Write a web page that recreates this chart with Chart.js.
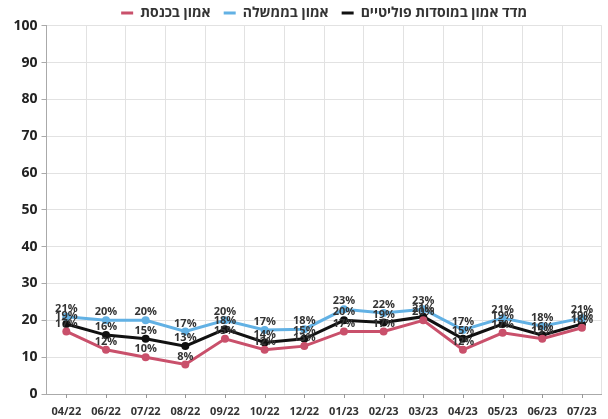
<!DOCTYPE html>
<html>
<head>
<meta charset="utf-8">
<script src="https://cdn.jsdelivr.net/npm/chart.js@4.4.0/dist/chart.umd.min.js"></script>
<style>
html,body{margin:0;padding:0;background:#fff;}
#wrap{width:608px;height:419px;}
</style>
</head>
<body>
<div id="wrap"><canvas id="c" width="608" height="419"></canvas></div>
<script>
const categories = ["04/22","06/22","07/22","08/22","09/22","10/22","12/22","01/23","02/23","03/23","04/23","05/23","06/23","07/23"];
const knesset = [17,12,10,8,15,12,13,17,17,20,12,16.6,15,18];
const government = [21,20,20,17,20,17.4,17.6,23,22,23,17.4,20.6,18.4,20.6];
const index = [19,16,15,13,17.6,14,15,20,19.4,21,15,19,16,19];
const yTicks = [0,10,20,30,40,50,60,70,80,90,100];
const seriesNames = ["אמון בכנסת","אמון בממשלה","מדד אמון במוסדות פוליטיים"];
const colors = ["#c9506b","#62b1e4","#111111"];

const FONT = "'Open Sans', 'DejaVu Sans', sans-serif";

const labelPlugin = {
  id: 'pctLabels',
  afterDatasetsDraw(chart) {
    const ctx = chart.ctx;
    ctx.save();
    ctx.font = "bold 11px " + FONT;
    ctx.fillStyle = "#333";
    ctx.textAlign = "center";
    ctx.textBaseline = "middle";
    chart.data.datasets.forEach((ds, di) => {
      const meta = chart.getDatasetMeta(di);
      meta.data.forEach((pt, i) => {
        ctx.fillText(Math.round(ds.data[i]) + "%", pt.x, pt.y - 8);
      });
    });
    ctx.restore();
  }
};

const xTickPlugin = {
  id: 'xTickMarks',
  afterDraw(chart) {
    const ctx = chart.ctx;
    const xs = chart.scales.x;
    const b = chart.chartArea.bottom;
    ctx.save();
    ctx.strokeStyle = "#999";
    ctx.lineWidth = 1;
    categories.forEach((c, i) => {
      const x = Math.round(xs.getPixelForValue(i)) + 0.5;
      ctx.beginPath();
      ctx.moveTo(x, b);
      ctx.lineTo(x, b + 4);
      ctx.stroke();
    });
    ctx.restore();
  }
};

new Chart(document.getElementById('c'), {
  type: 'line',
  data: {
    labels: categories,
    datasets: [knesset, government, index].map((d, i) => ({
      label: seriesNames[i],
      data: d,
      borderColor: colors[i],
      backgroundColor: colors[i],
      pointBackgroundColor: colors[i],
      pointBorderColor: colors[i],
      borderWidth: 3,
      pointRadius: 4,
      pointBorderWidth: 0,
      tension: 0,
      fill: false
    }))
  },
  options: {
    responsive: false,
    animation: false,
    devicePixelRatio: 1,
    layout: { padding: { top: -7, left: 0, right: 0, bottom: 0 } },
    plugins: {
      tooltip: { enabled: false },
      legend: {
        position: 'top',
        fullSize: false,
        maxHeight: 32.7,
        labels: {
          font: { family: FONT, size: 14, weight: 'bold' },
          color: "#333",
          boxWidth: 12,
          boxHeight: 3,
          padding: 13,
          generateLabels(chart) {
            const items = Chart.defaults.plugins.legend.labels.generateLabels(chart);
            items.forEach(it => { it.lineWidth = 0; });
            return items;
          }
        }
      }
    },
    scales: {
      x: {
        type: 'category',
        offset: true,
        grid: { offset: true, color: "#e2e2e2", drawTicks: false },
        border: { color: "#aaa" },
        ticks: { font: { family: FONT, size: 11, weight: 'bold' }, color: "#333", padding: 11, maxRotation: 0, autoSkip: false },
        afterFit(s) { s.height = 25; }
      },
      y: {
        min: 0, max: 100,
        afterBuildTicks(s) { s.ticks = yTicks.map(v => ({ value: v })); },
        grid: { color: "#e2e2e2", tickLength: 5, tickColor: "#aaa" },
        border: { color: "#aaa" },
        ticks: { font: { family: FONT, size: 14, weight: 'bold' }, color: "#222", padding: 4 },
        afterFit(s) { s.width = 46.5; }
      }
    }
  },
  plugins: [labelPlugin, xTickPlugin]
});
</script>
</body>
</html>
